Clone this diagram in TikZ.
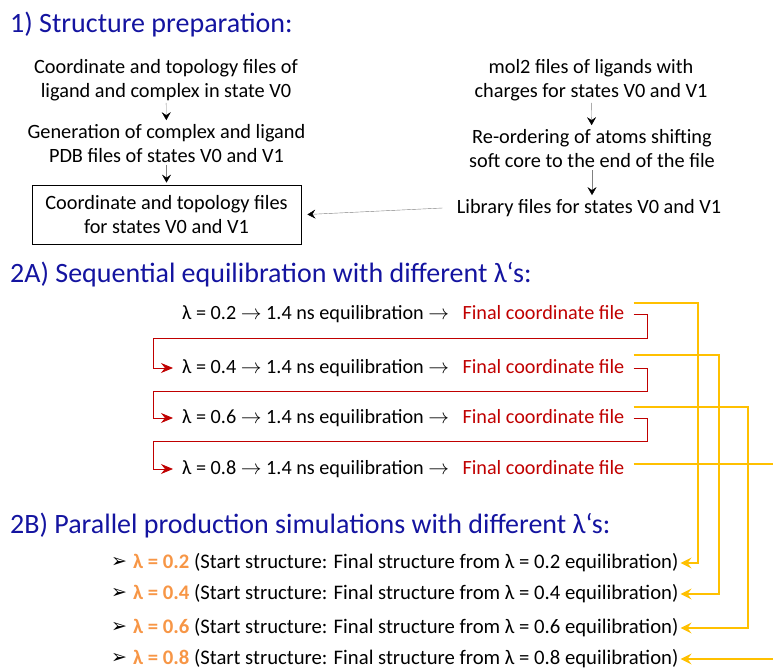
\documentclass[tikz,border=0pt]{standalone}
\usepackage{fontspec}
\setmainfont{Carlito}
\newfontfamily\dingfont{DejaVu Sans}
\usetikzlibrary{arrows.meta,positioning,calc}
\definecolor{ttlblue}{RGB}{20,20,160}
\definecolor{finred}{RGB}{192,0,0}
\definecolor{lamorange}{RGB}{247,150,70}
\definecolor{linkyellow}{RGB}{255,192,0}
\definecolor{stemgray}{RGB}{128,128,128}
\tikzset{
  ttl/.style={anchor=base west, inner sep=0pt, text=ttlblue, font=\fontsize{28}{34}\selectfont},
  prep/.style={align=center, inner sep=2pt, font=\fontsize{20.3}{24}\selectfont},
  prepbox/.style={prep, draw, line width=0.8pt, minimum width=269pt, minimum height=59pt},
  preparr/.style={draw=stemgray, line width=0.4pt, shorten >=2pt,
                  -{Stealth[black, length=8pt, width=9pt, inset=3pt]}},
  eqtxt/.style={inner sep=0pt, text height=15pt, text depth=5pt, font=\fontsize{20.2}{24}\selectfont},
  fintxt/.style={eqtxt, text=finred},
  seqarr/.style={draw=finred, line width=0.8pt, -{Stealth[length=12pt, width=10pt, inset=4pt]}},
  prodtxt/.style={eqtxt, anchor=base west, font=\fontsize{20.7}{24}\selectfont},
  prodarr/.style={draw=linkyellow, line width=1.2pt, -{Stealth[length=11pt, width=11pt, inset=4pt]}},
}
\newcommand{\lamval}[1]{{\bfseries\color{lamorange}λ = #1}}
\newcommand{\pbullet}{{\dingfont\fontsize{19}{19}\selectfont\raisebox{1pt}{➢}}}
\begin{document}
\begin{tikzpicture}[x=1pt, y=-1pt]
  \useasboundingbox (0,0) rectangle (773,668);

  % 1) structure preparation
  \node[ttl] (sec1) at (10,33) {1) Structure preparation:};
  \node[prep] (coord0) at (166,80) {Coordinate and topology files of\\ligand and complex in state V0};
  \node[prep] (genpdb) at (166.5,143.5) {Generation of complex and ligand\\PDB files of states V0 and V1};
  \node[prepbox] (coordall) at (166.5,214.5) {Coordinate and topology files\\for states V0 and V1};
  \node[prep] (mol2) at (591,80) {mol2 files of ligands with\\charges for states V0 and V1};
  \node[prep] (reorder) at (592,148.5) {Re-ordering of atoms shifting\\soft core to the end of the file};
  \node[prep] (libfile) at (589,208) {Library files for states V0 and V1};

  \draw[preparr] (coord0) -- (genpdb);
  \draw[preparr] (genpdb) -- (coordall);
  \draw[preparr] (mol2) -- (reorder);
  \draw[preparr] (reorder.south) -- (reorder.south |- libfile.north);
  \draw[preparr, shorten >=0pt] ([xshift=-12pt]libfile.west) -- ([xshift=6pt]coordall.east);

  % 2A) sequential equilibration
  \node[ttl] (sec2a) at (10,282) {2A) Sequential equilibration with different λ‘s:};
  \node[eqtxt, anchor=base west] (eq1) at (182,319) {λ = 0.2 $\rightarrow$ 1.4 ns equilibration $\rightarrow$};
  \node[fintxt, right=13pt of eq1] (fin1) {Final coordinate file};
  \node[eqtxt, anchor=base west] (eq2) at (182,373) {λ = 0.4 $\rightarrow$ 1.4 ns equilibration $\rightarrow$};
  \node[fintxt, right=13pt of eq2] (fin2) {Final coordinate file};
  \node[eqtxt, anchor=base west] (eq3) at (182,423) {λ = 0.6 $\rightarrow$ 1.4 ns equilibration $\rightarrow$};
  \node[fintxt, right=13pt of eq3] (fin3) {Final coordinate file};
  \node[eqtxt, anchor=base west] (eq4) at (182,474) {λ = 0.8 $\rightarrow$ 1.4 ns equilibration $\rightarrow$};
  \node[fintxt, right=13pt of eq4] (fin4) {Final coordinate file};

  \coordinate (turn1) at (153,338);
  \coordinate (turn2) at (153,391);
  \coordinate (turn3) at (153,441);
  \draw[seqarr] ([xshift=9pt]fin1.east) -- ++(14,0) |- (turn1) |- ([xshift=-9pt]eq2.west);
  \draw[seqarr] ([xshift=9pt]fin2.east) -- ++(14,0) |- (turn2) |- ([xshift=-9pt]eq3.west);
  \draw[seqarr] ([xshift=9pt]fin3.east) -- ++(14,0) |- (turn3) |- ([xshift=-9pt]eq4.west);

  % 2B) parallel production
  \node[ttl] (sec2b) at (10,533) {2B) Parallel production simulations with different λ‘s:};
  \node[prodtxt] (prod1) at (111,568) {\pbullet\hspace{6pt}\lamval{0.2} (Start structure: Final structure from λ = 0.2 equilibration)};
  \node[prodtxt] (prod2) at (111,599) {\pbullet\hspace{6pt}\lamval{0.4} (Start structure: Final structure from λ = 0.4 equilibration)};
  \node[prodtxt] (prod3) at (111,633) {\pbullet\hspace{6pt}\lamval{0.6} (Start structure: Final structure from λ = 0.6 equilibration)};
  \node[prodtxt] (prod4) at (111,664) {\pbullet\hspace{6pt}\lamval{0.8} (Start structure: Final structure from λ = 0.8 equilibration)};

  \coordinate (drop1) at (698,0);
  \coordinate (drop2) at (719,0);
  \coordinate (drop3) at (748,0);
  \coordinate (drop4) at (775,0);
  \draw[prodarr] ([xshift=9pt, yshift=11pt]fin1.east) -| (drop1 |- prod1.east) -- ([xshift=2pt]prod1.east);
  \draw[prodarr] ([xshift=9pt, yshift=13pt]fin2.east) -| (drop2 |- prod2.east) -- ([xshift=2pt]prod2.east);
  \draw[prodarr] ([xshift=9pt, yshift=11pt]fin3.east) -| (drop3 |- prod3.east) -- ([xshift=2pt]prod3.east);
  \draw[prodarr] ([xshift=9pt, yshift=5pt]fin4.east) -| (drop4 |- prod4.east) -- ([xshift=2pt]prod4.east);
\end{tikzpicture}
\end{document}
